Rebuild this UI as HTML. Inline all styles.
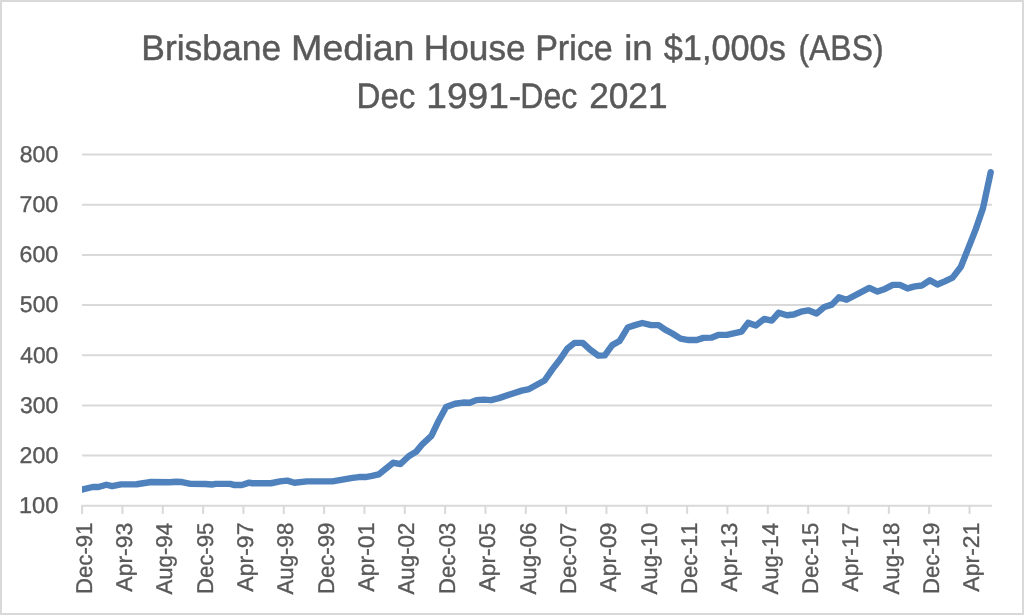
<!DOCTYPE html>
<html lang="en">
<head>
<meta charset="utf-8">
<title>Brisbane Median House Price in $1,000s (ABS) Dec 1991-Dec 2021</title>
<style>
html,body{margin:0;padding:0;background:#fff;}
body{width:1024px;height:615px;overflow:hidden;}
svg{display:block;}
text{font-family:"Liberation Sans",sans-serif;fill:#595959;stroke:#595959;stroke-width:0.45px;font-kerning:none;text-rendering:geometricPrecision;white-space:pre;}
.title text{font-size:35.6px;}
.ax text{font-size:22.8px;stroke-width:0.35px;}
.grid line,.grid path{stroke:#d9d9d9;stroke-width:2;}
</style>
</head>
<body>
<svg width="1024" height="615" viewBox="0 0 1024 615">
<rect x="0" y="0" width="1024" height="615" fill="#ffffff"/>
<rect x="1" y="1" width="1022" height="613" fill="none" stroke="#d9d9d9" stroke-width="2"/>
<g class="title">
<text><tspan x="141.27" y="60" textLength="139.88" lengthAdjust="spacingAndGlyphs">Brisbane</tspan> <tspan x="291.09" y="60" textLength="123.43" lengthAdjust="spacingAndGlyphs">Median</tspan> <tspan x="423.78" y="60" textLength="101.86" lengthAdjust="spacingAndGlyphs">House</tspan> <tspan x="535.13" y="60" textLength="77.71" lengthAdjust="spacingAndGlyphs">Price</tspan> <tspan x="624.23" y="60" textLength="28.47" lengthAdjust="spacingAndGlyphs">in</tspan> <tspan x="663.81" y="60" textLength="122.01" lengthAdjust="spacingAndGlyphs">$1,000s</tspan> <tspan x="798.45" y="60" textLength="85.11" lengthAdjust="spacingAndGlyphs">(ABS)</tspan></text>
<text><tspan x="356.45" y="108" textLength="59.00" lengthAdjust="spacingAndGlyphs">Dec</tspan> <tspan x="426.35" y="108" textLength="94.87" lengthAdjust="spacingAndGlyphs">1991-</tspan><tspan x="520.29" y="108" textLength="57.13" lengthAdjust="spacingAndGlyphs">Dec</tspan> <tspan x="589.15" y="108" textLength="78.39" lengthAdjust="spacingAndGlyphs">2021</tspan></text>
</g>
<g class="grid">
<line x1="82.0" y1="154.55" x2="992.0" y2="154.55"/>
<line x1="82.0" y1="204.85" x2="992.0" y2="204.85"/>
<line x1="82.0" y1="254.95" x2="992.0" y2="254.95"/>
<line x1="82.0" y1="305.10" x2="992.0" y2="305.10"/>
<line x1="82.0" y1="355.25" x2="992.0" y2="355.25"/>
<line x1="82.0" y1="405.45" x2="992.0" y2="405.45"/>
<line x1="82.0" y1="455.60" x2="992.0" y2="455.60"/>
<path d="M82.1,513.9 V505.75 H992.0" fill="none" stroke-linejoin="round"/>
<line x1="122.44" y1="505.75" x2="122.44" y2="513.9"/>
<line x1="162.77" y1="505.75" x2="162.77" y2="513.9"/>
<line x1="203.11" y1="505.75" x2="203.11" y2="513.9"/>
<line x1="243.45" y1="505.75" x2="243.45" y2="513.9"/>
<line x1="283.78" y1="505.75" x2="283.78" y2="513.9"/>
<line x1="324.12" y1="505.75" x2="324.12" y2="513.9"/>
<line x1="364.45" y1="505.75" x2="364.45" y2="513.9"/>
<line x1="404.79" y1="505.75" x2="404.79" y2="513.9"/>
<line x1="445.13" y1="505.75" x2="445.13" y2="513.9"/>
<line x1="485.46" y1="505.75" x2="485.46" y2="513.9"/>
<line x1="525.80" y1="505.75" x2="525.80" y2="513.9"/>
<line x1="566.14" y1="505.75" x2="566.14" y2="513.9"/>
<line x1="606.47" y1="505.75" x2="606.47" y2="513.9"/>
<line x1="646.81" y1="505.75" x2="646.81" y2="513.9"/>
<line x1="687.15" y1="505.75" x2="687.15" y2="513.9"/>
<line x1="727.48" y1="505.75" x2="727.48" y2="513.9"/>
<line x1="767.82" y1="505.75" x2="767.82" y2="513.9"/>
<line x1="808.15" y1="505.75" x2="808.15" y2="513.9"/>
<line x1="848.49" y1="505.75" x2="848.49" y2="513.9"/>
<line x1="888.83" y1="505.75" x2="888.83" y2="513.9"/>
<line x1="929.16" y1="505.75" x2="929.16" y2="513.9"/>
<line x1="969.50" y1="505.75" x2="969.50" y2="513.9"/>
</g>
<g class="ax">
<text x="19.77" y="162" textLength="38.50" lengthAdjust="spacingAndGlyphs">800</text>
<text x="19.59" y="212" textLength="38.69" lengthAdjust="spacingAndGlyphs">700</text>
<text x="19.60" y="262" textLength="38.68" lengthAdjust="spacingAndGlyphs">600</text>
<text x="19.85" y="312" textLength="38.42" lengthAdjust="spacingAndGlyphs">500</text>
<text x="20.25" y="363" textLength="38.01" lengthAdjust="spacingAndGlyphs">400</text>
<text x="19.90" y="413" textLength="38.37" lengthAdjust="spacingAndGlyphs">300</text>
<text x="19.61" y="463" textLength="38.67" lengthAdjust="spacingAndGlyphs">200</text>
<text x="18.98" y="513" textLength="39.32" lengthAdjust="spacingAndGlyphs">100</text>
<text transform="translate(91.80,523.3) rotate(-90)" x="-70.69" y="0" textLength="71.40" lengthAdjust="spacingAndGlyphs">Dec-91</text>
<text transform="translate(132.14,523.3) rotate(-90)" x="-68.37" y="0" textLength="69.01" lengthAdjust="spacingAndGlyphs">Apr-93</text>
<text transform="translate(172.47,523.3) rotate(-90)" x="-71.27" y="0" textLength="71.54" lengthAdjust="spacingAndGlyphs">Aug-94</text>
<text transform="translate(212.81,523.3) rotate(-90)" x="-70.69" y="0" textLength="71.24" lengthAdjust="spacingAndGlyphs">Dec-95</text>
<text transform="translate(253.15,523.3) rotate(-90)" x="-68.37" y="0" textLength="69.15" lengthAdjust="spacingAndGlyphs">Apr-97</text>
<text transform="translate(293.48,523.3) rotate(-90)" x="-71.27" y="0" textLength="71.86" lengthAdjust="spacingAndGlyphs">Aug-98</text>
<text transform="translate(333.82,523.3) rotate(-90)" x="-70.69" y="0" textLength="71.36" lengthAdjust="spacingAndGlyphs">Dec-99</text>
<text transform="translate(374.15,523.3) rotate(-90)" x="-68.37" y="0" textLength="69.12" lengthAdjust="spacingAndGlyphs">Apr-01</text>
<text transform="translate(414.49,523.3) rotate(-90)" x="-71.27" y="0" textLength="72.02" lengthAdjust="spacingAndGlyphs">Aug-02</text>
<text transform="translate(454.83,523.3) rotate(-90)" x="-70.69" y="0" textLength="71.29" lengthAdjust="spacingAndGlyphs">Dec-03</text>
<text transform="translate(495.16,523.3) rotate(-90)" x="-68.37" y="0" textLength="68.96" lengthAdjust="spacingAndGlyphs">Apr-05</text>
<text transform="translate(535.50,523.3) rotate(-90)" x="-71.27" y="0" textLength="71.87" lengthAdjust="spacingAndGlyphs">Aug-06</text>
<text transform="translate(575.84,523.3) rotate(-90)" x="-70.69" y="0" textLength="71.43" lengthAdjust="spacingAndGlyphs">Dec-07</text>
<text transform="translate(616.17,523.3) rotate(-90)" x="-68.37" y="0" textLength="69.09" lengthAdjust="spacingAndGlyphs">Apr-09</text>
<text transform="translate(656.51,523.3) rotate(-90)" x="-71.27" y="0" textLength="71.76" lengthAdjust="spacingAndGlyphs">Aug-10</text>
<text transform="translate(696.85,523.3) rotate(-90)" x="-70.69" y="0" textLength="71.40" lengthAdjust="spacingAndGlyphs">Dec-11</text>
<text transform="translate(737.18,523.3) rotate(-90)" x="-68.37" y="0" textLength="69.01" lengthAdjust="spacingAndGlyphs">Apr-13</text>
<text transform="translate(777.52,523.3) rotate(-90)" x="-71.27" y="0" textLength="71.54" lengthAdjust="spacingAndGlyphs">Aug-14</text>
<text transform="translate(817.85,523.3) rotate(-90)" x="-70.69" y="0" textLength="71.24" lengthAdjust="spacingAndGlyphs">Dec-15</text>
<text transform="translate(858.19,523.3) rotate(-90)" x="-68.37" y="0" textLength="69.15" lengthAdjust="spacingAndGlyphs">Apr-17</text>
<text transform="translate(898.53,523.3) rotate(-90)" x="-71.27" y="0" textLength="71.86" lengthAdjust="spacingAndGlyphs">Aug-18</text>
<text transform="translate(938.86,523.3) rotate(-90)" x="-70.69" y="0" textLength="71.36" lengthAdjust="spacingAndGlyphs">Dec-19</text>
<text transform="translate(979.20,523.3) rotate(-90)" x="-68.37" y="0" textLength="69.12" lengthAdjust="spacingAndGlyphs">Apr-21</text>
</g>
<clipPath id="plot"><rect x="82" y="140" width="912" height="380"/></clipPath>
<polyline clip-path="url(#plot)" fill="none" stroke="#4f81bd" stroke-width="6.4" stroke-linejoin="round" stroke-linecap="round" points="81.9,489.55 92.7,487.00 98.5,487.00 106.3,484.75 112.2,486.20 121.0,484.35 136.6,484.25 151.2,482.00 169.8,482.20 176.0,481.75 181.9,482.05 190.6,483.85 205.3,483.95 211.9,484.55 215.5,483.85 230.2,483.85 234.6,485.05 241.9,485.05 249.2,482.65 252.0,483.25 271.0,483.25 280.0,481.35 287.3,480.65 294.4,482.75 307.1,481.40 332.5,481.35 341.1,479.85 352.5,477.95 359.0,477.05 365.5,477.05 372.0,475.95 378.6,474.45 393.2,462.75 400.5,464.05 408.7,456.25 416.0,451.85 422.5,444.05 431.4,435.95 438.8,420.45 446.1,406.95 455.0,403.75 463.2,402.55 469.8,402.75 476.3,400.10 483.6,399.65 490.9,400.10 499.0,398.15 513.7,393.25 521.8,390.65 529.1,389.05 544.6,380.55 552.7,368.85 560.0,359.45 567.4,348.55 574.7,342.85 582.8,342.85 590.1,349.65 598.3,355.65 604.8,355.35 612.2,345.15 619.5,341.05 627.7,327.55 635.0,325.15 642.3,323.00 651.2,325.15 658.6,325.15 665.1,329.65 672.4,333.55 680.5,338.65 688.7,340.05 696.8,340.05 703.3,337.85 711.4,337.65 718.8,334.85 726.9,334.85 741.5,331.65 748.1,322.85 755.9,325.45 764.1,318.95 771.7,320.55 778.7,312.75 786.9,315.25 793.7,314.45 801.0,311.65 808.3,310.35 816.5,313.55 824.3,307.05 831.9,304.65 838.9,297.35 846.6,299.75 869.3,287.85 877.5,291.55 885.0,288.95 892.8,284.85 899.9,284.85 907.5,288.45 914.9,286.35 922.1,285.45 929.9,280.25 937.4,284.55 944.8,281.35 952.6,277.65 960.9,266.75 967.9,249.15 975.5,229.85 983.0,208.15 990.7,172.25"/>
</svg>
</body>
</html>
